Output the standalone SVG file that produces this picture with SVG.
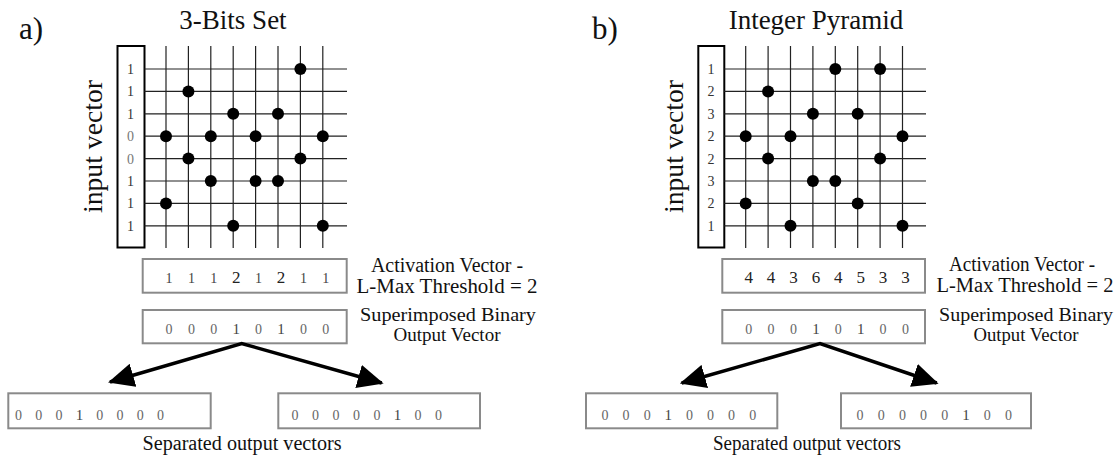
<svg xmlns="http://www.w3.org/2000/svg" width="1114" height="461" viewBox="0 0 1114 461">
<defs>
<style>
text{font-family:"Liberation Serif","Times New Roman",serif;fill:#111}
.big{font-size:31px}
.title{font-size:27px;text-anchor:middle}
.iv{font-size:28px;text-anchor:middle}
.lbl{font-size:20px;text-anchor:middle}
.lbl2{font-size:19px;text-anchor:middle}
.dig{font-size:14px;text-anchor:middle;fill:#333}
.dz{font-size:14px;text-anchor:middle;fill:#777}
.act{font-size:17px;text-anchor:middle;fill:#222}
.a1{font-size:14px;text-anchor:middle;fill:#444}
.sz{font-size:14px;text-anchor:middle;fill:#666}
.s1{font-size:15px;text-anchor:middle;fill:#444}
.vbox{fill:#fff;stroke:#8a8a8a;stroke-width:2}
.ibox{fill:#fff;stroke:#000;stroke-width:2}
.grid{stroke:#222;stroke-width:1.2;fill:none}
.dot{fill:#000}
.arrow{fill:none;stroke:#000;stroke-width:3.5;stroke-linejoin:miter}
</style>
<marker id="ah" markerUnits="userSpaceOnUse" markerWidth="26" markerHeight="24" viewBox="0 0 26 24" refX="24" refY="12" orient="auto-start-reverse">
<path d="M0,0 L26,12 L0,24 z" fill="#000"/>
</marker>
</defs>
<rect width="1114" height="461" fill="#fff"/>

<!-- Panel a -->
<g id="label-a"><text class="big" x="19" y="39">a)</text></g>
<g id="title-a"><text class="title" x="233" y="29">3-Bits Set</text></g>
<g id="input-label-a"><text class="iv" transform="translate(102,146.5) rotate(-90)" textLength="133" lengthAdjust="spacingAndGlyphs">input vector</text></g>

<g id="input-vector-a">
<rect class="ibox" x="117.5" y="46" width="27" height="201.5"/>
<text class="dig" x="130.5" y="74">1</text>
<text class="dig" x="130.5" y="96.4">1</text>
<text class="dig" x="130.5" y="118.8">1</text>
<text class="dz" x="130.5" y="141.2">0</text>
<text class="dz" x="130.5" y="163.6">0</text>
<text class="dig" x="130.5" y="186">1</text>
<text class="dig" x="130.5" y="208.4">1</text>
<text class="dig" x="130.5" y="230.8">1</text>
</g>

<g id="matrix-a">
<path class="grid" d="M166,46V248M188.4,46V248M210.8,46V248M233.2,46V248M255.6,46V248M278,46V248M300.4,46V248M322.8,46V248
M144.5,69H347M144.5,91.4H347M144.5,113.8H347M144.5,136.2H347M144.5,158.6H347M144.5,181H347M144.5,203.4H347M144.5,225.8H347"/>
<circle class="dot" cx="300.4" cy="69" r="6"/>
<circle class="dot" cx="188.4" cy="91.4" r="6"/>
<circle class="dot" cx="233.2" cy="113.8" r="6"/>
<circle class="dot" cx="278" cy="113.8" r="6"/>
<circle class="dot" cx="166" cy="136.2" r="6"/>
<circle class="dot" cx="210.8" cy="136.2" r="6"/>
<circle class="dot" cx="255.6" cy="136.2" r="6"/>
<circle class="dot" cx="322.8" cy="136.2" r="6"/>
<circle class="dot" cx="188.4" cy="158.6" r="6"/>
<circle class="dot" cx="300.4" cy="158.6" r="6"/>
<circle class="dot" cx="210.8" cy="181" r="6"/>
<circle class="dot" cx="255.6" cy="181" r="6"/>
<circle class="dot" cx="278" cy="181" r="6"/>
<circle class="dot" cx="166" cy="203.4" r="6"/>
<circle class="dot" cx="233.2" cy="225.8" r="6"/>
<circle class="dot" cx="322.8" cy="225.8" r="6"/>
</g>

<g id="activation-a">
<rect class="vbox" x="142.7" y="259" width="204" height="33.7"/>
<text class="a1" x="169" y="283">1</text>
<text class="a1" x="191.4" y="283">1</text>
<text class="a1" x="213.8" y="283">1</text>
<text class="act" x="236.2" y="283">2</text>
<text class="a1" x="258.6" y="283">1</text>
<text class="act" x="281" y="283">2</text>
<text class="a1" x="303.4" y="283">1</text>
<text class="a1" x="325.8" y="283">1</text>
</g>
<g id="activation-label-a">
<text class="lbl" x="447" y="272" textLength="152" lengthAdjust="spacingAndGlyphs">Activation Vector -</text>
<text class="lbl" x="447" y="293" textLength="181" lengthAdjust="spacingAndGlyphs">L-Max Threshold = 2</text>
</g>

<g id="superimposed-a">
<rect class="vbox" x="142.7" y="310" width="204" height="33.3"/>
<text class="sz" x="169" y="334">0</text>
<text class="sz" x="191.4" y="334">0</text>
<text class="sz" x="213.8" y="334">0</text>
<text class="s1" x="236.2" y="334">1</text>
<text class="sz" x="258.6" y="334">0</text>
<text class="s1" x="281" y="334">1</text>
<text class="sz" x="303.4" y="334">0</text>
<text class="sz" x="325.8" y="334">0</text>
</g>
<g id="superimposed-label-a">
<text class="lbl2" x="448" y="321" textLength="176" lengthAdjust="spacingAndGlyphs">Superimposed Binary</text>
<text class="lbl2" x="447" y="341" textLength="107" lengthAdjust="spacingAndGlyphs">Output Vector</text>
</g>

<g id="separated-a-left">
<rect class="vbox" x="8.3" y="393.3" width="202.4" height="35"/>
<text class="sz" x="18.5" y="419.5">0</text>
<text class="sz" x="38.8" y="419.5">0</text>
<text class="sz" x="59.1" y="419.5">0</text>
<text class="s1" x="79.4" y="419.5">1</text>
<text class="sz" x="99.7" y="419.5">0</text>
<text class="sz" x="120" y="419.5">0</text>
<text class="sz" x="140.3" y="419.5">0</text>
<text class="sz" x="160.6" y="419.5">0</text>
</g>
<g id="separated-a-right">
<rect class="vbox" x="278.3" y="393.3" width="201.7" height="35"/>
<text class="sz" x="295" y="419.5">0</text>
<text class="sz" x="315.5" y="419.5">0</text>
<text class="sz" x="336" y="419.5">0</text>
<text class="sz" x="356.5" y="419.5">0</text>
<text class="sz" x="377" y="419.5">0</text>
<text class="s1" x="397.5" y="419.5">1</text>
<text class="sz" x="418" y="419.5">0</text>
<text class="sz" x="438.5" y="419.5">0</text>
</g>
<g id="separated-label-a"><text class="lbl" x="242" y="450" textLength="199" lengthAdjust="spacingAndGlyphs">Separated output vectors</text></g>

<!-- Panel b -->
<g id="label-b"><text class="big" x="592" y="39">b)</text></g>
<g id="title-b"><text class="title" x="816" y="29">Integer Pyramid</text></g>
<g id="input-label-b"><text class="iv" transform="translate(683,146.5) rotate(-90)" textLength="133" lengthAdjust="spacingAndGlyphs">input vector</text></g>

<g id="input-vector-b">
<rect class="ibox" x="698.3" y="46" width="26" height="201.5"/>
<text class="dig" x="711" y="74">1</text>
<text class="dig" x="711" y="96.4">2</text>
<text class="dig" x="711" y="118.8">3</text>
<text class="dig" x="711" y="141.2">2</text>
<text class="dig" x="711" y="163.6">2</text>
<text class="dig" x="711" y="186">3</text>
<text class="dig" x="711" y="208.4">2</text>
<text class="dig" x="711" y="230.8">1</text>
</g>

<g id="matrix-b">
<path class="grid" d="M745.7,46V248M768.1,46V248M790.5,46V248M812.9,46V248M835.3,46V248M857.7,46V248M880.1,46V248M902.5,46V248
M724.3,69H926M724.3,91.4H926M724.3,113.8H926M724.3,136.2H926M724.3,158.6H926M724.3,181H926M724.3,203.4H926M724.3,225.8H926"/>
<circle class="dot" cx="835.3" cy="69" r="6"/>
<circle class="dot" cx="880.1" cy="69" r="6"/>
<circle class="dot" cx="768.1" cy="91.4" r="6"/>
<circle class="dot" cx="812.9" cy="113.8" r="6"/>
<circle class="dot" cx="857.7" cy="113.8" r="6"/>
<circle class="dot" cx="745.7" cy="136.2" r="6"/>
<circle class="dot" cx="790.5" cy="136.2" r="6"/>
<circle class="dot" cx="902.5" cy="136.2" r="6"/>
<circle class="dot" cx="768.1" cy="158.6" r="6"/>
<circle class="dot" cx="880.1" cy="158.6" r="6"/>
<circle class="dot" cx="812.9" cy="181" r="6"/>
<circle class="dot" cx="835.3" cy="181" r="6"/>
<circle class="dot" cx="745.7" cy="203.4" r="6"/>
<circle class="dot" cx="857.7" cy="203.4" r="6"/>
<circle class="dot" cx="790.5" cy="225.8" r="6"/>
<circle class="dot" cx="902.5" cy="225.8" r="6"/>
</g>

<g id="activation-b">
<rect class="vbox" x="722.3" y="259" width="202.7" height="33.7"/>
<text class="act" x="748.7" y="283">4</text>
<text class="act" x="771.1" y="283">4</text>
<text class="act" x="793.5" y="283">3</text>
<text class="act" x="815.9" y="283">6</text>
<text class="act" x="838.3" y="283">4</text>
<text class="act" x="860.7" y="283">5</text>
<text class="act" x="883.1" y="283">3</text>
<text class="act" x="905.5" y="283">3</text>
</g>
<g id="activation-label-b">
<text class="lbl" x="1022" y="271" textLength="146" lengthAdjust="spacingAndGlyphs">Activation Vector -</text>
<text class="lbl" x="1025" y="292" textLength="177" lengthAdjust="spacingAndGlyphs">L-Max Threshold = 2</text>
</g>

<g id="superimposed-b">
<rect class="vbox" x="722.3" y="310" width="202.7" height="33.3"/>
<text class="sz" x="748.7" y="334">0</text>
<text class="sz" x="771.1" y="334">0</text>
<text class="sz" x="793.5" y="334">0</text>
<text class="s1" x="815.9" y="334">1</text>
<text class="sz" x="838.3" y="334">0</text>
<text class="s1" x="860.7" y="334">1</text>
<text class="sz" x="883.1" y="334">0</text>
<text class="sz" x="905.5" y="334">0</text>
</g>
<g id="superimposed-label-b">
<text class="lbl2" x="1026" y="321" textLength="174" lengthAdjust="spacingAndGlyphs">Superimposed Binary</text>
<text class="lbl2" x="1026" y="341" textLength="105" lengthAdjust="spacingAndGlyphs">Output Vector</text>
</g>

<g id="separated-b-left">
<rect class="vbox" x="586" y="393.3" width="191.3" height="35"/>
<text class="sz" x="605" y="419.5">0</text>
<text class="sz" x="626.1" y="419.5">0</text>
<text class="sz" x="647.2" y="419.5">0</text>
<text class="s1" x="668.3" y="419.5">1</text>
<text class="sz" x="689.4" y="419.5">0</text>
<text class="sz" x="710.5" y="419.5">0</text>
<text class="sz" x="731.6" y="419.5">0</text>
<text class="sz" x="752.7" y="419.5">0</text>
</g>
<g id="separated-b-right">
<rect class="vbox" x="841" y="393.3" width="190" height="35"/>
<text class="sz" x="860" y="419.5">0</text>
<text class="sz" x="881.2" y="419.5">0</text>
<text class="sz" x="902.4" y="419.5">0</text>
<text class="sz" x="923.6" y="419.5">0</text>
<text class="sz" x="944.8" y="419.5">0</text>
<text class="s1" x="966" y="419.5">1</text>
<text class="sz" x="987.2" y="419.5">0</text>
<text class="sz" x="1008.4" y="419.5">0</text>
</g>
<g id="separated-label-b"><text class="lbl" x="807" y="450" textLength="188" lengthAdjust="spacingAndGlyphs">Separated output vectors</text></g>

<g id="connectors">
<path class="arrow" d="M110,382 L241.7,343.5 L381.7,383" marker-start="url(#ah)" marker-end="url(#ah)"/>
<path class="arrow" d="M681.7,383 L820,343.5 L936.7,383" marker-start="url(#ah)" marker-end="url(#ah)"/>
</g>
</svg>
